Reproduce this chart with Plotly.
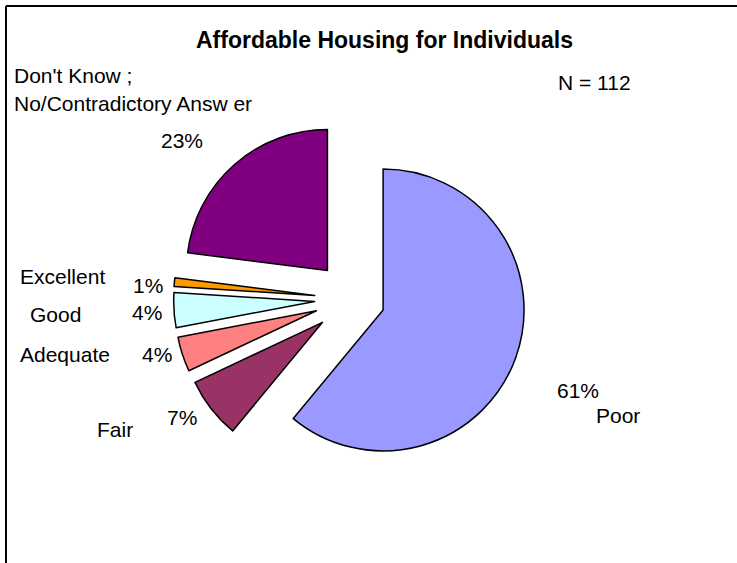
import plotly.graph_objects as go

# Survey response shares (percent), clockwise from 12 o'clock
categories = ["Poor", "Fair", "Adequate", "Good", "Excellent",
              "Don't Know ;<br>No/Contradictory Answ er"]
shares = [61, 7, 4, 4, 1, 23]
colors = ["#9999FF", "#993366", "#FF8080", "#CCFFFF", "#FF9900", "#800080"]
pulls = [0.23, 0.27, 0.27, 0.27, 0.27, 0.27]
sample_size = 112

W, H = 737, 563
FONT = "Liberation Sans, Arial, sans-serif"


def px(x):
    return x / W


def py(y):
    return 1 - y / H


# pie box centred on the slice hub
cx, cy, half = 352.6, 299.0, 179.0

fig = go.Figure(go.Pie(
    labels=categories,
    values=shares,
    sort=False,
    direction="clockwise",
    rotation=0,
    pull=pulls,
    marker=dict(colors=colors, line=dict(color="#000000", width=1.5)),
    textinfo="none",
    hoverinfo="label+percent",
    showlegend=False,
    domain=dict(x=[px(cx - half), px(cx + half)],
                y=[py(cy + half), py(cy - half)]),
))

pct = [f"{v}%" for v in shares]

# (text, x, y, xanchor, size)
labels = [
    ("<b>Affordable Housing for Individuals</b>", 385, 40, "center", 23),
    ("Don't Know ;", 12, 76, "left", 21),
    ("No/Contradictory Answ er", 12, 103, "left", 21),
    (f"N = {sample_size}", 556, 83, "left", 21),
    (pct[5], 182, 140, "center", 21),
    ("Excellent", 18, 276, "left", 21),
    (pct[4], 148, 285, "center", 21),
    ("Good", 28, 314, "left", 21),
    (pct[3], 147, 312, "center", 21),
    ("Adequate", 18, 354, "left", 21),
    (pct[2], 157, 355, "center", 21),
    ("Fair", 95, 429, "left", 21),
    (pct[1], 182, 417, "center", 21),
    (pct[0], 578, 390, "center", 21),
    ("Poor", 618, 415, "center", 21),
]

annotations = [
    dict(text=t, x=px(x), y=py(y), xref="paper", yref="paper",
         xanchor=a, yanchor="middle", showarrow=False,
         font=dict(family=FONT, size=s, color="#000000"))
    for t, x, y, a, s in labels
]

shapes = [
    dict(type="line", xref="paper", yref="paper",
         x0=px(6), y0=py(6), x1=px(W + 2), y1=py(6),
         line=dict(color="#000000", width=2)),
    dict(type="line", xref="paper", yref="paper",
         x0=px(6), y0=py(6), x1=px(6), y1=py(H + 2),
         line=dict(color="#000000", width=2)),
]

fig.update_layout(
    width=W, height=H,
    margin=dict(l=0, r=0, t=0, b=0),
    paper_bgcolor="#FFFFFF",
    plot_bgcolor="#FFFFFF",
    annotations=annotations,
    shapes=shapes,
    font=dict(family=FONT),
)

fig.write_html("out.html")
